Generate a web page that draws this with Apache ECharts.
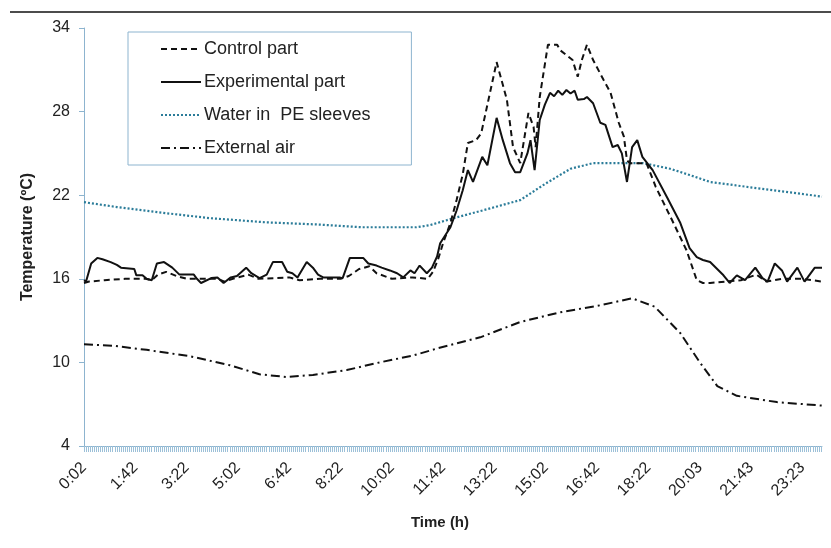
<!DOCTYPE html>
<html>
<head>
<meta charset="utf-8">
<script src="https://cdn.jsdelivr.net/npm/echarts@6/dist/echarts.min.js"></script>
<style>
html,body{margin:0;padding:0;background:#fff;}
#chart{width:831px;height:548px;}
</style>
</head>
<body>
<div id="chart"></div>
<script>
// time axis: one category per logged sample (~2 min), labels every 50 samples
const sampleCount = 720;
const tickLabels = ['0:02','1:42','3:22','5:02','6:42','8:22','10:02','11:42','13:22','15:02','16:42','18:22','20:03','21:43','23:23'];
const seriesNames = ['Control part','Experimental part','Water in  PE sleeves','External air'];

// [sample index, temperature °C]
const controlPart = [
  [0,15.7],[5,15.8],[20,15.9],[40,16.0],[60,16.0],[66,15.9],[72,16.3],[80,16.5],[90,16.2],[100,16.0],
  [130,16.0],[137,15.8],[145,16.0],[160,16.3],[170,16.0],[200,16.1],[210,15.9],[230,16.0],[250,16.0],
  [258,16.2],[268,16.7],[278,16.9],[285,16.4],[300,16.0],[320,16.1],[335,16.0],[340,16.5],[345,17.4],
  [350,18.6],[357,20.0],[363,21.65],[369,23.5],[374,25.75],[382,25.95],[387,26.45],[402,31.55],[412,28.85],
  [418,25.45],[425,24.3],[433,27.9],[438,26.9],[440,25.45],[444,29.05],[452,32.8],[461,32.8],[464,32.4],
  [476,31.7],[481,30.5],[485,31.7],[490,32.8],[496,31.7],[506,30.3],[513,29.35],[521,27.2],[526,26.2],
  [529,24.5],[532,24.3],[548,24.3],[557,22.6],[573,20.2],[587,18.05],[597,15.9],[603,15.7],[610,15.7],
  [625,15.8],[640,15.9],[655,16.3],[665,15.8],[680,16.0],[700,16.0],[719,15.8]
];
const experimentalPart = [
  [0,15.9],[2,15.8],[7,17.1],[13,17.5],[18,17.4],[26,17.2],[32,17.0],[36,16.8],[49,16.7],[51,16.25],
  [57,16.25],[61,16.0],[66,15.9],[71,17.1],[78,17.2],[86,16.8],[93,16.3],[107,16.3],[110,16.0],[114,15.7],
  [124,16.05],[130,16.1],[136,15.7],[143,16.1],[149,16.2],[158,16.8],[163,16.4],[171,16.05],[178,16.3],
  [184,17.2],[193,17.2],[198,16.5],[203,16.4],[208,16.1],[217,17.2],[223,16.8],[228,16.3],[233,16.1],
  [249,16.1],[252,16.05],[259,17.5],[272,17.5],[277,17.1],[285,16.95],[290,16.8],[298,16.6],[305,16.4],
  [311,16.1],[318,16.6],[322,16.4],[327,16.95],[334,16.4],[339,16.8],[344,17.6],[347,18.55],[357,19.7],
  [363,20.9],[369,22.35],[374,23.8],[379,22.95],[388,24.75],[393,24.15],[402,27.55],[408,25.95],[415,24.3],
  [420,23.65],[425,23.65],[432,25.0],[435,25.95],[439,23.8],[444,27.4],[449,28.5],[454,29.35],[458,29.1],
  [462,29.5],[466,29.2],[470,29.55],[474,29.3],[478,29.5],[481,28.85],[487,28.9],[490,29.05],[496,28.6],
  [503,27.2],[508,27.05],[515,25.45],[520,25.6],[524,25.0],[529,22.95],[534,25.45],[539,25.95],[544,24.75],
  [554,23.8],[568,21.85],[581,20.0],[590,18.2],[597,17.55],[603,17.35],[610,17.2],[623,16.25],[629,15.7],
  [636,16.25],[644,15.9],[654,16.8],[661,16.05],[666,15.8],[673,17.1],[680,16.6],[685,15.8],[695,16.8],
  [702,15.8],[712,16.8],[719,16.8]
];
const waterInPE = [
  [0,21.5],[32,21.15],[81,20.7],[123,20.35],[178,20.05],[227,19.9],[270,19.7],[324,19.7],[337,19.85],
  [360,20.35],[393,21.0],[425,21.65],[449,22.8],[474,23.9],[496,24.3],[545,24.3],[571,23.9],[590,23.45],
  [610,22.95],[656,22.5],[688,22.2],[719,21.9]
];
const externalAir = [
  [0,11.3],[28,11.2],[61,10.9],[103,10.45],[142,9.8],[171,9.15],[198,8.95],[223,9.1],[256,9.45],[288,10.0],
  [321,10.5],[344,11.0],[386,11.8],[425,12.9],[464,13.6],[503,14.1],[534,14.6],[556,14.0],[581,12.1],
  [600,10.0],[617,8.3],[636,7.6],[675,7.15],[719,6.9]
];

const categories = [];
for (let i = 0; i < sampleCount; i++) categories.push(String(i));

const axisBlue = '#8db4cf';
const font = '"Liberation Sans", Arial, sans-serif';

const chart = echarts.init(document.getElementById('chart'), null, {renderer: 'canvas'});
chart.setOption({
  animation: false,
  backgroundColor: '#fff',
  textStyle: {fontFamily: font},
  graphic: [{
    type: 'line', shape: {x1: 10, y1: 12, x2: 831, y2: 12},
    style: {stroke: '#111', lineWidth: 1.5}
  }],
  grid: {left: 84, right: 9, top: 28, bottom: 102, containLabel: false},
  legend: {
    orient: 'vertical', left: 128, top: 32,
    padding: [8, 41, 8, 32],
    itemWidth: 40, itemHeight: 14, itemGap: 15,
    borderColor: axisBlue, borderWidth: 1, backgroundColor: '#fff',
    itemStyle: {opacity: 0},
    textStyle: {fontSize: 18, color: '#222', fontFamily: font, lineHeight: 18, padding: [0,0,0,-2]},
    data: seriesNames
  },
  xAxis: {
    type: 'category', data: categories, boundaryGap: false,
    name: 'Time (h)', nameLocation: 'middle', nameGap: 69,
    nameTextStyle: {fontSize: 15, fontWeight: 'bold', color: '#222', padding: [0, 26, 0, 0]},
    axisLine: {lineStyle: {color: axisBlue, width: 1}},
    axisTick: {interval: 1, length: 6, lineStyle: {color: '#9cc0d8', width: 1}},
    axisLabel: {
      interval: function (i) { return i % 50 === 0; },
      formatter: function (v, i) { return tickLabels[Math.round(i / 50)] || ''; },
      rotate: 45, fontSize: 16, color: '#222', margin: 19
    },
    splitLine: {show: false}
  },
  yAxis: {
    type: 'value', min: 4, max: 34, interval: 6,
    name: 'Temperature (ºC)', nameLocation: 'middle', nameGap: 48,
    nameTextStyle: {fontSize: 16, fontWeight: 'bold', color: '#222'},
    axisLine: {show: true, lineStyle: {color: axisBlue, width: 1}},
    axisTick: {show: true, length: 5, lineStyle: {color: axisBlue}},
    axisLabel: {fontSize: 16, color: '#222', margin: 14},
    splitLine: {show: false}
  },
  series: [
    {name: seriesNames[2], type: 'line', data: waterInPE, symbol: 'none', z: 2,
     lineStyle: {color: '#2b7c99', width: 2.2, type: [2, 2]}, itemStyle: {color: '#2b7c99'}},
    {name: seriesNames[3], type: 'line', data: externalAir, symbol: 'none', z: 3,
     lineStyle: {color: '#111', width: 2, type: [9, 4, 2, 4]}, itemStyle: {color: '#111'}},
    {name: seriesNames[0], type: 'line', data: controlPart, symbol: 'none', z: 4,
     lineStyle: {color: '#111', width: 2, type: [6, 4]}, itemStyle: {color: '#111'}},
    {name: seriesNames[1], type: 'line', data: experimentalPart, symbol: 'none', z: 5,
     lineStyle: {color: '#111', width: 2}, itemStyle: {color: '#111'}}
  ]
});
</script>
</body>
</html>
